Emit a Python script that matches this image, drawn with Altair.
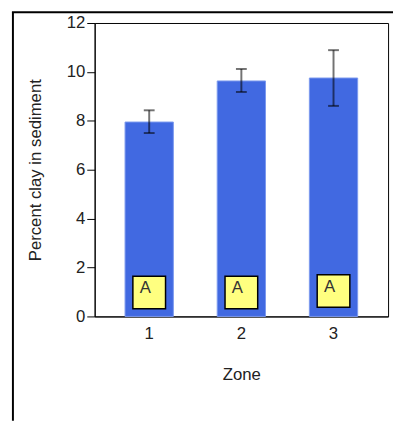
import altair as alt
import pandas as pd

zones = ["1", "2", "3"]
means = [7.95, 9.63, 9.75]
err_low = [7.50, 9.18, 8.61]
err_high = [8.43, 10.12, 10.89]
letters = ["A", "A", "A"]
label_y = [0.98, 0.98, 1.04]
y_ticks = [0, 2, 4, 6, 8, 10, 12]

df = pd.DataFrame({
    "Zone": zones, "mean": means, "lo": err_low, "hi": err_high,
    "letter": letters, "ly": label_y,
})

FONT = "Liberation Sans"
x_enc = alt.X("Zone:N", title="Zone",
              scale=alt.Scale(paddingInner=0.476, paddingOuter=0.33),
              axis=alt.Axis(labelAngle=0, ticks=False, domain=True,
                            labelPadding=9, titlePadding=26))
y_scale = alt.Scale(domain=[0, 12], nice=False)

base = alt.Chart(df)

bars = base.mark_bar(color="#4169E1", stroke="#7b98ee", strokeWidth=1).encode(
    x=x_enc,
    y=alt.Y("mean:Q", title="Percent clay in sediment", scale=y_scale,
            axis=alt.Axis(values=y_ticks, grid=False, tickSize=8,
                          labelPadding=2, titlePadding=22)),
)

err_rule = base.mark_rule(color="black", opacity=0.55, strokeWidth=2).encode(
    x=x_enc, y=alt.Y("lo:Q", scale=y_scale), y2="hi:Q"
)
cap_lo = base.mark_tick(color="black", opacity=0.55, size=11, thickness=2).encode(
    x=x_enc, y=alt.Y("lo:Q", scale=y_scale)
)
cap_hi = base.mark_tick(color="black", opacity=0.55, size=11, thickness=2).encode(
    x=x_enc, y=alt.Y("hi:Q", scale=y_scale)
)

boxes = base.mark_point(shape="square", size=1100, filled=True, fill="#FFFF80",
                        stroke="black", strokeWidth=1.5, opacity=1).encode(
    x=x_enc, y=alt.Y("ly:Q", scale=y_scale)
)
texts = base.mark_text(font=FONT, fontSize=17, color="#333", dx=-4, dy=-4).encode(
    x=x_enc, y=alt.Y("ly:Q", scale=y_scale), text="letter:N"
)

frame_left = alt.Chart(pd.DataFrame({"k": [0]})).mark_rule(color="black", strokeWidth=2).encode(
    x=alt.value(-83), y=alt.value(-11), y2=alt.value(404)
)
frame_top = alt.Chart(pd.DataFrame({"k": [0]})).mark_rule(color="black", strokeWidth=2).encode(
    x=alt.value(-84), x2=alt.value(303), y=alt.value(-11)
)

chart = alt.layer(bars, err_rule, cap_lo, cap_hi, boxes, texts, frame_left, frame_top).properties(
    width=298, height=298,
    autosize=alt.AutoSizeParams(type="none"),
    padding={"left": 88, "top": 12, "right": 5, "bottom": 106},
).configure_view(
    stroke="black", strokeWidth=1
).configure_axis(
    labelFont=FONT, titleFont=FONT, labelFontSize=17, titleFontSize=17,
    titleFontWeight="normal", labelColor="#222", titleColor="#222",
    domainColor="black", tickColor="black", domainWidth=1,
)

chart.save("out.html", embed_options={"renderer": "svg", "actions": False})
